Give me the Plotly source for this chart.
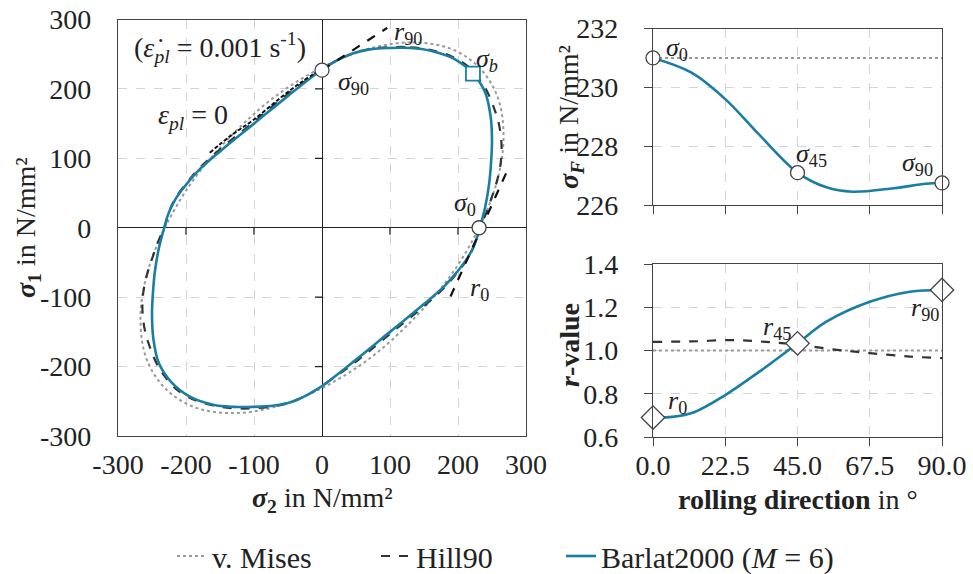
import plotly.graph_objects as go

# ---------------- data: yield loci (sigma2 = x, sigma1 = y), N/mm^2 ----------------
BARLAT_S2 = [100, 130, 160, 195, 222, 240, 248, 250, 249, 246, 240, 232, 226, 215, 200, 180, 150, 100, 50, 0,
             -20, -45, -70, -100, -130, -160, -195, -222, -240, -248, -250, -249, -246, -240, -232,
             -226, -215, -200, -180, -150, -100, -50, 0, 20, 45, 70, 100]
BARLAT_S1 = [259, 259, 255, 243, 222, 195, 160, 125, 100, 65, 30, 0, -20, -42, -62, -84, -110, -150, -190, -228,
             -240, -251, -256, -258, -258, -255, -243, -222, -195, -160, -125, -100, -65, -30, 0,
             20, 42, 62, 84, 110, 150, 190, 228, 240, 251, 257, 259]

HILL_S2 = [100, 130, 160, 190, 215, 232, 241, 252, 260, 264, 263, 258, 250, 241, 232, 226, 216, 201, 181, 151, 101, 51, 0,
           -20, -45, -70, -100, -130, -160, -190, -215, -232, -241, -252, -260, -264, -263, -258, -250, -241, -232,
           -226, -216, -201, -181, -151, -101, -51, 0, 20, 45, 70, 100]
HILL_S1 = [260, 260, 256, 247, 232, 213, 200, 175, 150, 120, 95, 70, 45, 20, 0, -20, -42, -62, -85, -112, -152, -192, -228,
           -240, -251, -257, -260, -260, -256, -247, -232, -213, -200, -175, -150, -120, -95, -70, -45, -20, 0,
           20, 42, 62, 85, 112, 152, 192, 228, 240, 251, 257, 260]

MISES_S2 = [69, 133, 189, 231, 258, 267, 258, 231, 189, 133, 69, 0, -69, -133, -189, -231, -258, -267, -258, -231,
            -189, -133, -69, 0, 69]
MISES_S1 = [258, 267, 258, 231, 189, 133, 69, 0, -69, -133, -189, -231, -258, -267, -258, -231, -189, -133, -69, 0,
            69, 133, 189, 231, 258]

EPS0_S2 = [-165, -135, -100, -60, -30, 0]
EPS0_S1 = [108, 132, 156, 188, 210, 229]

R90_TAN_S2 = [0, 96]
R90_TAN_S1 = [227, 288]
R0_TAN_S2 = [189, 276]
R0_TAN_S1 = [-99, 90]

LOCUS_PTS_S2 = [0, 231]          # sigma90, sigma0
LOCUS_PTS_S1 = [227, 0]
SIGMA_B = [222, 222]

# ---------------- data: directional yield stress ----------------
ANG_SIG = [0, 12, 22.5, 33, 45, 54, 62, 75, 85, 90]
SIGF_BARLAT = [231.0, 230.5, 229.6, 228.4, 227.1, 226.6, 226.45, 226.57, 226.72, 226.75]
SIGF_MISES_ANG = [0, 90]
SIGF_MISES = [231.0, 231.0]
SIG_MARK_ANG = [0, 45, 90]
SIG_MARK = [231.0, 227.1, 226.75]

# ---------------- data: r-values ----------------
ANG_R = [0, 6, 13, 22.5, 33, 45, 54, 67.5, 80, 90]
R_BARLAT = [0.69, 0.693, 0.716, 0.794, 0.901, 1.033, 1.133, 1.225, 1.272, 1.28]
ANG_RH = [0, 12, 25, 35, 45, 56, 67.5, 80, 90]
R_HILL = [1.040, 1.042, 1.048, 1.040, 1.027, 1.005, 0.988, 0.972, 0.965]
R_MISES_ANG = [0, 90]
R_MISES = [1.0, 1.0]
R_MARK_ANG = [0, 45, 90]
R_MARK = [0.69, 1.033, 1.28]

ANGLE_TICKS = [0, 22.5, 45, 67.5, 90]
ANGLE_LABELS = ["0.0", "22.5", "45.0", "67.5", "90.0"]
LOCUS_TICKS = [-300, -200, -100, 0, 100, 200, 300]
LOCUS_LABELS = ["-300", "-200", "-100", "0", "100", "200", "300"]
SIGF_TICKS = [226, 228, 230, 232]
R_TICKS = [0.6, 0.8, 1.0, 1.2, 1.4]
R_LABELS = ["0.6", "0.8", "1.0", "1.2", "1.4"]

BLUE = "#1a7ea3"
DARK = "#333333"
GRAYDOT = "#9a9a9a"
FONT = "Liberation Serif"
FS = 28

fig = go.Figure()

# left panel
fig.add_trace(go.Scatter(x=MISES_S2, y=MISES_S1, mode="lines", line=dict(color=GRAYDOT, width=2, dash="dot", shape="spline"),
                         name="v. Mises", legend="legend", xaxis="x", yaxis="y"))
fig.add_trace(go.Scatter(x=HILL_S2, y=HILL_S1, mode="lines", line=dict(color=DARK, width=2.2, dash="dash", shape="spline"),
                         name="Hill90", legend="legend2", xaxis="x", yaxis="y"))
fig.add_trace(go.Scatter(x=BARLAT_S2, y=BARLAT_S1, mode="lines", line=dict(color=BLUE, width=2.6, shape="spline"),
                         name="Barlat2000 (<i>M</i> = 6)", legend="legend3", xaxis="x", yaxis="y"))
fig.add_trace(go.Scatter(x=EPS0_S2, y=EPS0_S1, mode="lines", line=dict(color="#111111", width=2, dash="4px,2px", shape="spline"),
                         showlegend=False, xaxis="x", yaxis="y"))
fig.add_trace(go.Scatter(x=R90_TAN_S2, y=R90_TAN_S1, mode="lines", line=dict(color="#111111", width=2.2, dash="dash"),
                         showlegend=False, xaxis="x", yaxis="y"))
fig.add_trace(go.Scatter(x=R0_TAN_S2, y=R0_TAN_S1, mode="lines", line=dict(color="#111111", width=2.2, dash="dash"),
                         showlegend=False, xaxis="x", yaxis="y"))
fig.add_trace(go.Scatter(x=LOCUS_PTS_S2, y=LOCUS_PTS_S1, mode="markers",
                         marker=dict(symbol="circle", size=14, color="white", line=dict(color="#444444", width=1.3)),
                         showlegend=False, xaxis="x", yaxis="y"))
fig.add_trace(go.Scatter(x=[SIGMA_B[0]], y=[SIGMA_B[1]], mode="markers",
                         marker=dict(symbol="square", size=14, color="white", line=dict(color=BLUE, width=1.8)),
                         showlegend=False, xaxis="x", yaxis="y"))

# right top
fig.add_trace(go.Scatter(x=SIGF_MISES_ANG, y=SIGF_MISES, mode="lines", line=dict(color=GRAYDOT, width=2, dash="dot"),
                         showlegend=False, xaxis="x2", yaxis="y2"))
fig.add_trace(go.Scatter(x=ANG_SIG, y=SIGF_BARLAT, mode="lines", line=dict(color=BLUE, width=2.6, shape="spline"),
                         showlegend=False, xaxis="x2", yaxis="y2"))
fig.add_trace(go.Scatter(x=SIG_MARK_ANG, y=SIG_MARK, mode="markers", cliponaxis=False,
                         marker=dict(symbol="circle", size=14, color="white", line=dict(color="#444444", width=1.3)),
                         showlegend=False, xaxis="x2", yaxis="y2"))

# right bottom
fig.add_trace(go.Scatter(x=R_MISES_ANG, y=R_MISES, mode="lines", line=dict(color=GRAYDOT, width=2, dash="dot"),
                         showlegend=False, xaxis="x3", yaxis="y3"))
fig.add_trace(go.Scatter(x=ANG_RH, y=R_HILL, mode="lines", line=dict(color=DARK, width=2.2, dash="dash", shape="spline"),
                         showlegend=False, xaxis="x3", yaxis="y3"))
fig.add_trace(go.Scatter(x=ANG_R, y=R_BARLAT, mode="lines", line=dict(color=BLUE, width=2.6, shape="spline"),
                         showlegend=False, xaxis="x3", yaxis="y3"))
fig.add_trace(go.Scatter(x=R_MARK_ANG, y=R_MARK, mode="markers", cliponaxis=False,
                         marker=dict(symbol="diamond", size=18, color="white", line=dict(color="#444444", width=1.3)),
                         showlegend=False, xaxis="x3", yaxis="y3"))

W, H = 973, 574
def px(x):
    return x / W
def py(y):
    return 1 - y / H

grid = dict(showgrid=True, gridcolor="#d4d4d4", griddash="dash", gridwidth=1, automargin=False)
frame = dict(showline=True, linecolor="#444444", linewidth=1.3, mirror=True)
tickf = dict(family=FONT, size=FS, color="#222222")
legf = dict(family=FONT, size=30, color="#222222")

fig.update_layout(
    template="none",
    width=W, height=H, margin=dict(l=0, r=0, t=0, b=0, pad=0, autoexpand=False),
    paper_bgcolor="white", plot_bgcolor="white",
    font=dict(family=FONT, size=FS, color="#222222"),
    xaxis=dict(domain=[px(118), px(526)], range=[-300, 300], tickvals=LOCUS_TICKS, ticktext=LOCUS_LABELS,
               ticks="", ticklabelstandoff=3,
               zeroline=True, zerolinecolor="#222222", zerolinewidth=1.3, tickfont=tickf, anchor="y", **grid, **frame),
    yaxis=dict(domain=[py(436), py(19.5)], range=[-300, 300], tickvals=LOCUS_TICKS, ticktext=LOCUS_LABELS,
               ticks="", ticklabelstandoff=20,
               zeroline=True, zerolinecolor="#222222", zerolinewidth=1.3, tickfont=tickf, anchor="x", **grid, **frame),
    xaxis2=dict(domain=[px(653), px(942)], range=[0, 90], tickvals=ANGLE_TICKS, showticklabels=False,
                ticks="outside", ticklen=8, tickcolor="#444444", zeroline=False, anchor="y2", **grid, **frame),
    yaxis2=dict(domain=[py(205), py(28.5)], range=[226, 232], tickvals=SIGF_TICKS, ticks="outside", ticklen=8,
                tickcolor="#444444", ticklabelstandoff=20, zeroline=False, tickfont=tickf, anchor="x2", **grid, **frame),
    xaxis3=dict(domain=[px(653), px(942)], range=[0, 90], tickvals=ANGLE_TICKS, ticktext=ANGLE_LABELS,
                ticks="outside", ticklen=8, tickcolor="#444444", ticklabelstandoff=-5, zeroline=False, tickfont=tickf,
                anchor="y3", **grid, **frame),
    yaxis3=dict(domain=[py(437), py(264)], range=[0.6, 1.4], tickvals=R_TICKS, ticktext=R_LABELS,
                ticks="outside", ticklen=8, tickcolor="#444444", ticklabelstandoff=20, zeroline=False, tickfont=tickf,
                anchor="x3", **grid, **frame),
    legend=dict(x=px(172), y=py(556), xanchor="left", yanchor="middle", orientation="h",
                font=legf, bgcolor="rgba(0,0,0,0)"),
    legend2=dict(x=px(376), y=py(556), xanchor="left", yanchor="middle", orientation="h",
                 font=legf, bgcolor="rgba(0,0,0,0)"),
    legend3=dict(x=px(561), y=py(556), xanchor="left", yanchor="middle", orientation="h",
                 font=legf, bgcolor="rgba(0,0,0,0)"),
)

# ticks on the zero axes of the yield-locus panel
for v in [-200, -100, 100, 200]:
    fig.add_shape(type="line", xref="x", yref="y", x0=v, x1=v, ysizemode="pixel", yanchor=0, y0=0, y1=-7,
                  line=dict(color="#222222", width=1.3))
    fig.add_shape(type="line", xref="x", yref="y", y0=v, y1=v, xsizemode="pixel", xanchor=0, x0=-7, x1=0,
                  line=dict(color="#222222", width=1.3))

def ann(text, x, y, xref="x", yref="y", size=26, angle=0):
    fig.add_annotation(text=text, x=x, y=y, xref=xref, yref=yref, showarrow=False, textangle=angle,
                       xanchor="center", yanchor="middle",
                       font=dict(family=FONT, size=size, color="#222222"))

# left panel labels
ann("(<i>ε̇</i><sub><i>pl</i></sub> = 0.001 s<sup>-1</sup>)", -150, 260, size=28)
ann("<i>ε</i><sub><i>pl</i></sub> = 0", -189, 160, size=28)
ann("<i>r</i><sub>90</sub>", 126, 281)
ann("<i>σ</i><sub>90</sub>", 46, 209)
ann("<i>σ</i><sub><i>b</i></sub>", 242, 242)
ann("<i>σ</i><sub>0</sub>", 210, 34)
ann("<i>r</i><sub>0</sub>", 232, -88)

# right panel labels
ann("<i>σ</i><sub>0</sub>", 7.5, 231.3, xref="x2", yref="y2")
ann("<i>σ</i><sub>45</sub>", 49.5, 227.7, xref="x2", yref="y2")
ann("<i>σ</i><sub>90</sub>", 82.5, 227.4, xref="x2", yref="y2")
ann("<i>r</i><sub>0</sub>", 7.5, 0.76, xref="x3", yref="y3")
ann("<i>r</i><sub>45</sub>", 38.6, 1.105, xref="x3", yref="y3")
ann("<i>r</i><sub>90</sub>", 84.6, 1.19, xref="x3", yref="y3")

# axis titles
ann("<b><i>σ</i><sub>1</sub></b> in N/mm²", px(27), py(228), "paper", "paper", size=FS, angle=-90)
ann("<b><i>σ</i><sub>2</sub></b> in N/mm²", px(322), py(500), "paper", "paper", size=FS)
ann("<b><i>σ</i><sub><i>F</i></sub></b> in N/mm²", px(570), py(117), "paper", "paper", size=FS, angle=-90)
ann("<b><i>r</i>-value</b>", px(570), py(345), "paper", "paper", size=FS, angle=-90)
ann("<b>rolling direction</b> in °", px(798), py(500), "paper", "paper", size=FS)

fig.write_html("out.html")
